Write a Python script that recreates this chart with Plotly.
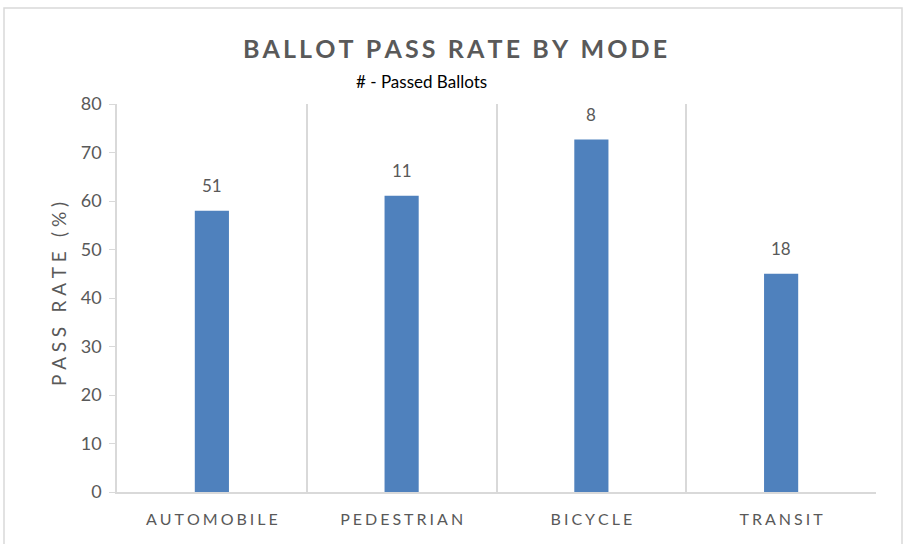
import plotly.graph_objects as go


MODOS = ["AUTOMOBILE", "PEDESTRIAN", "BICYCLE", "TRANSIT"]
TASA_APROBACION = [58.0, 61.1, 72.7, 45.0]
BOLETAS_APROBADAS = [51, 11, 8, 18]
TICKS_Y = [0, 10, 20, 30, 40, 50, 60, 70, 80]

GRIS = "#595959"
LINEA = "#d9d9d9"
AZUL = "#4f81bd"
FUENTE = "Lato, 'Open Sans', sans-serif"


def espaciar(texto, sep="\u2009"):
    # Imita el espaciado entre letras del original con espacios finos.
    return sep.join(texto)


def main():

    posiciones = list(range(len(MODOS)))

    fig = go.Figure()

    fig.add_trace(
        go.Bar(
            x=posiciones,
            y=TASA_APROBACION,
            width=0.18,
            marker_color=AZUL,
            marker_line_width=0,
            hoverinfo="skip",
        )
    )

    # Etiquetas con el numero de boletas aprobadas sobre cada barra.
    anotaciones = [
        dict(
            x=x,
            y=y,
            xref="x",
            yref="y",
            text=str(n),
            showarrow=False,
            yanchor="middle",
            yshift=25,
            font=dict(size=17, color=GRIS),
        )
        for x, y, n in zip(posiciones, TASA_APROBACION, BOLETAS_APROBADAS)
    ]

    # Margenes en pixeles para que el area del grafico coincida.
    izq, der, arriba, abajo = 117, 37, 104, 52
    ancho_plot = 913 - izq - der
    alto_plot = 544 - arriba - abajo

    anotaciones.append(
        dict(
            x=(421 - izq) / ancho_plot,
            y=(544 - abajo - 81) / alto_plot,
            xref="paper",
            yref="paper",
            xanchor="center",
            yanchor="middle",
            text="# - Passed Ballots",
            showarrow=False,
            font=dict(size=17, color="#000000"),
        )
    )

    # Titulo del eje Y como anotacion para poder ubicarlo con precision.
    anotaciones.append(
        dict(
            x=(58 - izq) / ancho_plot,
            y=(544 - abajo - 294) / alto_plot,
            xref="paper",
            yref="paper",
            xanchor="center",
            yanchor="middle",
            textangle=-90,
            text=espaciar("PASS RATE (%)", "\u2009\u2009"),
            showarrow=False,
            font=dict(size=19, color=GRIS),
        )
    )

    fig.update_xaxes(
        range=[-0.5, len(MODOS) - 0.5],
        tickvals=posiciones,
        ticktext=[espaciar(m, "\u2009\u200a") for m in MODOS],
        ticks="outside",
        ticklen=12,
        tickcolor="rgba(0,0,0,0)",
        tickfont=dict(size=16, color=GRIS),
        showgrid=False,
        zeroline=False,
        showline=True,
        linecolor=LINEA,
        linewidth=2,
        minor=dict(
            tick0=-0.5,
            dtick=1,
            showgrid=True,
            gridcolor=LINEA,
            gridwidth=1.5,
            ticks="",
        ),
        fixedrange=True,
    )

    fig.update_yaxes(
        range=[0, 80],
        tickvals=TICKS_Y,
        ticks="outside",
        ticklen=6,
        tickcolor=LINEA,
        tickfont=dict(size=18, color=GRIS),
        ticklabelstandoff=4,
        showgrid=False,
        zeroline=False,
        showline=True,
        linecolor=LINEA,
        linewidth=1.5,
        fixedrange=True,
    )

    fig.update_layout(
        width=913,
        height=544,
        margin=dict(l=izq, r=der, t=arriba, b=abajo, pad=0),
        plot_bgcolor="#ffffff",
        paper_bgcolor="#ffffff",
        font_family=FUENTE,
        showlegend=False,
        title=dict(
            text="<b>" + espaciar("BALLOT PASS RATE BY MODE") + "</b>",
            x=455 / 913,
            xanchor="center",
            y=1 - 49 / 544,
            yanchor="middle",
            font=dict(size=25, color=GRIS, family=FUENTE),
        ),
        annotations=anotaciones,
        shapes=[
            dict(
                type="rect",
                xref="paper",
                yref="paper",
                x0=(4 - izq) / ancho_plot,
                x1=(902 - izq) / ancho_plot,
                y0=(544 - abajo - 560) / alto_plot,
                y1=(544 - abajo - 8) / alto_plot,
                line=dict(color=LINEA, width=1.5),
                layer="below",
            )
        ],
    )

    # Quitamos el margen del body para que la figura empiece en (0, 0).
    fig.write_html(
        "out.html",
        config={"displayModeBar": False},
        post_script="document.body.style.margin='0';",
    )


if __name__ == "__main__":

    main()
